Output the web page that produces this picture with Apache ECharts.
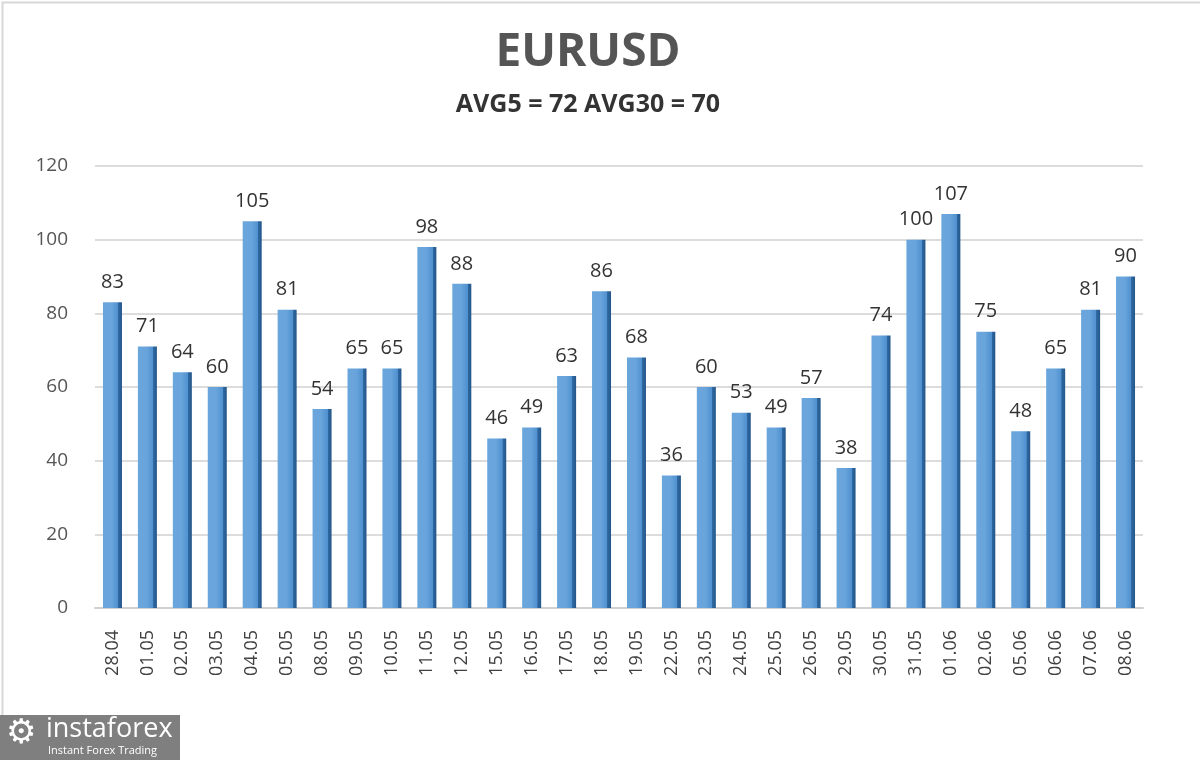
<!DOCTYPE html>
<html>
<head>
<meta charset="utf-8">
<script src="https://cdn.jsdelivr.net/npm/echarts@6/dist/echarts.min.js"></script>
<style>
html,body{margin:0;padding:0;background:#fff;}
#c{width:1200px;height:760px;}
</style>
</head>
<body>
<div id="c"></div>
<script>
var categories = ['28.04','01.05','02.05','03.05','04.05','05.05','08.05','09.05','10.05','11.05','12.05','15.05','16.05','17.05','18.05','19.05','22.05','23.05','24.05','25.05','26.05','29.05','30.05','31.05','01.06','02.06','05.06','06.06','07.06','08.06'];
var values = [83,71,64,60,105,81,54,65,65,98,88,46,49,63,86,68,36,60,53,49,57,38,74,100,107,75,48,65,81,90];
var yTicks = {min:0, max:120, interval:20};
var titleText = 'EURUSD';
var subtitleText = 'AVG5 = 72 AVG30 = 70';

var chart = echarts.init(document.getElementById('c'));
var barColor = new echarts.graphic.LinearGradient(0,0,1,0,[
  {offset:0, color:'#6aa6dc'},
  {offset:0.45, color:'#69a5dc'},
  {offset:0.8, color:'#4f90cf'},
  {offset:0.81, color:'#2f6aa3'},
  {offset:1, color:'#24568a'}
]);
chart.setOption({
  backgroundColor:'#ffffff',
  animation:false,
  grid:{left:95, right:57, top:166, bottom:152, containLabel:false},
  xAxis:{
    type:'category', data:categories,
    axisLine:{show:true, lineStyle:{color:'#d0d0d0', width:2}},
    axisTick:{show:false},
    axisLabel:{rotate:90, margin:22, fontFamily:'Open Sans', fontSize:18, color:'#404040'}
  },
  yAxis:{
    type:'value', min:yTicks.min, max:yTicks.max, interval:yTicks.interval,
    axisLine:{show:false}, axisTick:{show:false},
    axisLabel:{margin:27, fontFamily:'Open Sans', fontSize:19, color:'#555555'},
    splitLine:{lineStyle:{color:'#dcdcdc', width:2}}
  },
  series:[{
    type:'bar', data:values, barWidth:19,
    itemStyle:{color:barColor},
    label:{show:true, position:'top', distance:10, fontFamily:'Open Sans', fontSize:20, color:'#333333'}
  }],
  graphic:[
    {type:'rect', left:0, top:0, shape:{width:1199, height:759}, style:{fill:'none', stroke:'#d8d8d8', lineWidth:2}, silent:true},
    {type:'text', x:588, y:53, style:{text:titleText, textAlign:'center', textVerticalAlign:'middle', fill:'#555555', fontSize:46, fontWeight:'bold', fontFamily:'Open Sans'}},
    {type:'text', x:588, y:105, style:{text:subtitleText, textAlign:'center', textVerticalAlign:'middle', fill:'#333333', fontSize:25, fontWeight:'bold', fontFamily:'Open Sans'}},
    {type:'rect', left:0, top:715, shape:{width:180, height:45}, style:{fill:'#7f7f7f'}},
    {type:'text', left:6, top:717, style:{text:'\u2699', fill:'#ffffff', fontSize:34, fontFamily:'DejaVu Sans'}},
    {type:'text', left:46, top:716, style:{text:'instaforex', fill:'#ffffff', fontSize:27, fontFamily:'Open Sans'}},
    {type:'text', left:48, top:745, style:{text:'Instant Forex Trading', fill:'#ffffff', fontSize:11, fontFamily:'Open Sans'}}
  ]
});
</script>
</body>
</html>
